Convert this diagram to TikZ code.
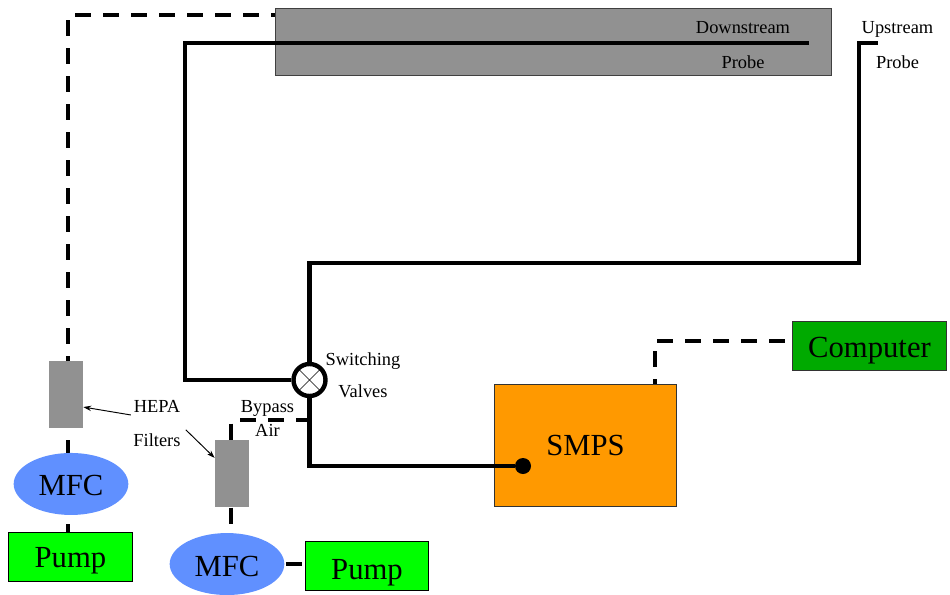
\documentclass[tikz,border=0pt]{standalone}
\usepackage{fontspec}
\setmainfont{Liberation Serif}
\usepackage{xcolor}
\usetikzlibrary{positioning,arrows.meta,shapes.geometric,backgrounds}
\definecolor{tankgray}{HTML}{919191}
\definecolor{mfcblue}{HTML}{6090FF}
\definecolor{pumpgreen}{HTML}{00FF00}
\definecolor{compgreen}{HTML}{00AA00}
\definecolor{smpsorange}{HTML}{FF9900}
\tikzset{
  pipe/.style={line width=3.3pt},
  signal/.style={line width=3.3pt,dash pattern=on 12pt off 9pt},
  pointer/.style={line width=0.7pt,-{Stealth[length=6pt,width=4pt]}},
  small label/.style={font=\fontsize{13.8}{16}\selectfont,inner sep=0pt,text height=9pt,text depth=0pt},
  filterbox/.style={fill=tankgray,minimum width=25.5pt,minimum height=50.2pt,inner sep=0pt},
  mfc/.style={ellipse,fill=mfcblue,minimum width=86pt,minimum height=46.5pt,inner sep=0pt,text depth=0pt,font=\fontsize{23}{26}\selectfont},
  pumpbox/.style={draw=black,line width=0.6pt,fill=pumpgreen,minimum width=92.6pt,minimum height=36.8pt,inner sep=0pt,text depth=0pt,font=\fontsize{23}{26}\selectfont},
  valve/.style={circle,draw=black,line width=3.3pt,fill=white,minimum size=24pt,inner sep=0pt,
    path picture={
      \draw[line width=0.4pt] (path picture bounding box.north west) -- (path picture bounding box.south east);
      \draw[line width=0.4pt] (path picture bounding box.north east) -- (path picture bounding box.south west);
    }},
}
\begin{document}
\begin{tikzpicture}[x=0.75pt,y=-0.75pt,node distance=25.9pt,on grid,auto]
   \useasboundingbox (0,0) rectangle (950,594);

   \node[draw=black!75,line width=0.6pt,fill=tankgray,minimum width=417pt,minimum height=50.2pt,inner sep=0pt] (tank) at (553,41.5) {};
   \node[small label] (downstream) at (743,27.5) {Downstream};
   \node[small label] (probeDown) [below=of downstream] {Probe};
   \node[small label] (upstream) at (897.5,27.5) {Upstream};
   \node[small label] (probeUp) [below=of upstream] {Probe};

   \node[valve] (sw) at (309.5,380) {};
   \node[small label] (switching) at (363,359) {Switching};
   \node[small label] (valves) [below=24.4pt of switching] {Valves};

   \node[filterbox] (filterA) at (66,394.5) {};
   \node[mfc,text height=18pt] (mfcA) [below right=67.1pt and 3.75pt of filterA] {MFC};
   \node[pumpbox,text height=16.5pt] (pumpA) [below left=54.4pt and 0.4pt of mfcA] {Pump};

   \node[filterbox] (filterB) at (232,473.5) {};
   \node[mfc,text height=19pt] (mfcB) [below left=67.9pt and 3.75pt of filterB] {MFC};
   \node[pumpbox,text height=21.5pt] (pumpB) [below right=1.1pt and 105pt of mfcB] {Pump};

   \node[small label] (hepa) at (157,406.7) {HEPA};
   \node[small label] (filters) [below=25pt of hepa] {Filters};
   \node[small label] (bypass) at (267.5,406.7) {Bypass};
   \node[small label] (air) [below=17.5pt of bypass] {Air};

   \node[draw=black!80,line width=0.6pt,fill=smpsorange,minimum width=137pt,minimum height=92pt,inner sep=0pt,font=\fontsize{23}{26}\selectfont] (smps) at (585.5,445.5) {SMPS};
   \node[draw=black!80,line width=0.6pt,fill=compgreen,minimum width=116pt,minimum height=36.8pt,inner sep=0pt,text height=18pt,text depth=0pt,font=\fontsize{23}{26}\selectfont] (computer) at (869.5,345.5) {Computer};
   \node[circle,fill=black,minimum size=12pt,inner sep=0pt] (sample) at (523,466) {};

   \coordinate (tipDown) at (809,43);
   \coordinate (bendDown) at (185,380);
   \coordinate (bendUp) at (859,263);
   \coordinate (tipUp) at (878,43);
   \coordinate (bendAir) at (68,15);
   \coordinate (bendBypass) at (231,420);
   \coordinate (bendComp) at (655,341);

   \draw[pipe] (tipDown) -| (bendDown) -- (sw.west);
   \draw[pipe] (sw.north) |- (bendUp) |- (tipUp);
   \draw[pipe] (sw.south) |- (sample);
   \draw[pipe,shorten <=1pt,shorten >=2.2pt] (mfcB.east) -- (mfcB.east -| pumpB.west);

   \begin{scope}[on background layer]
   \draw[signal,dash phase=9pt] (tank.west |- bendAir) -- (bendAir) -- (bendAir |- pumpA.north);
   \draw[signal,dash phase=1.5pt] (sw.south |- bendBypass) -- (bendBypass) -- (bendBypass |- mfcB.north);
   \end{scope}
   \draw[signal,dash phase=15.75pt] (computer.west |- bendComp) -- (bendComp) -- (bendComp |- smps.north);

   \draw[pointer] ([xshift=-2pt,yshift=-1.5pt]hepa.south west) -- (filterA.-36);
   \draw[pointer] ([xshift=3.75pt,yshift=3pt]filters.north east) -- (filterB.138);
\end{tikzpicture}
\end{document}
